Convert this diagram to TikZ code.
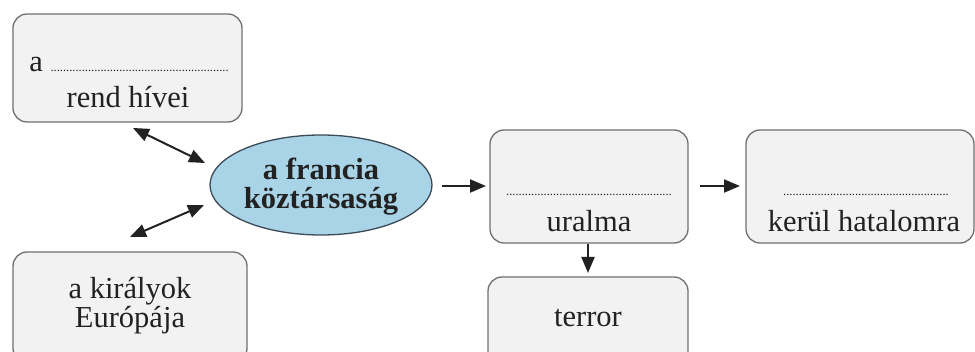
\documentclass[tikz,border=0pt]{standalone}
\usepackage{fontspec}
\setmainfont{Liberation Serif}
\usetikzlibrary{arrows.meta,shapes.geometric}
\definecolor{boxline}{HTML}{707070}
\definecolor{boxfill}{HTML}{F2F2F2}
\definecolor{ellfill}{HTML}{A9D4E8}
\definecolor{ellline}{HTML}{3C4A55}
\definecolor{txt}{HTML}{222222}
\newcommand\dts[1]{{\fontsize{12.5}{12}\selectfont #1}}
\begin{document}
\begin{tikzpicture}[x=1pt,y=-1pt,
  box/.style={draw=boxline, fill=boxfill, line width=1.3pt, rounded corners=14pt, inner sep=0pt},
  ell/.style={ellipse, draw=ellline, fill=ellfill, line width=1.3pt, inner sep=0pt, minimum width=222pt, minimum height=100pt},
  lbl/.style={anchor=base, inner sep=0pt, font=\fontsize{30.5}{30}\selectfont, text=txt},
  blbl/.style={lbl, font=\fontsize{30.5}{30}\selectfont\bfseries},
  arr/.style={draw=txt, line width=2pt, -{Triangle[length=16pt,width=13pt]}},
  darr/.style={draw=txt, line width=2pt, {Triangle[length=16pt,width=13pt]}-{Triangle[length=16pt,width=13pt]}}]
\useasboundingbox (0,0) rectangle (975,352);
\fill[white] (0,0) rectangle (975,352);
% boxes
\node[box, minimum width=229pt, minimum height=108pt] (A) at (127.5,68) {};
\node[box, minimum width=234pt, minimum height=110pt] (D) at (130,307) {};
\node[ell] (E) at (321,185) {};
\node[box, minimum width=198pt, minimum height=113pt] (U) at (589,186.5) {};
\node[box, minimum width=228pt, minimum height=113pt] (K) at (860,186.5) {};
\node[box, minimum width=200pt, minimum height=95pt] (T) at (588,324.5) {};
% texts
\node[lbl] (A1) at (129,72) {a \dts{.........................................................}};
\node[lbl] (A2) at (128,108) {rend hívei};
\node[lbl] (D1) at (130,299) {a királyok};
\node[lbl] (D2) at (130,328) {Európája};
\node[blbl] (E1) at (321,180) {a francia};
\node[blbl] (E2) at (321,209) {köztársaság};
\node[lbl] (U1) at (589,196) {\dts{.....................................................}};
\node[lbl] (U2) at (589,232) {uralma};
\node[lbl] (K1) at (866,196) {\dts{.....................................................}};
\node[lbl] (K2) at (864,232) {kerül hatalomra};
\node[lbl] (T1) at (588,327) {terror};
% connector end points
\coordinate (a1) at (133,128);
\coordinate (e1) at (205,163);
\coordinate (d1) at (130,237);
\coordinate (e2) at (204,205);
\coordinate (e3) at (442,186);
\coordinate (u1) at (486,186);
\coordinate (u2) at (700,186);
\coordinate (k1) at (740,186);
\coordinate (u3) at (588,244);
\coordinate (t1) at (588,273);
\draw[darr] (a1) -- (e1);
\draw[darr] (d1) -- (e2);
\draw[arr] (e3) -- (u1);
\draw[arr] (u2) -- (k1);
\draw[arr] (u3) -- (t1);
\end{tikzpicture}
\end{document}
